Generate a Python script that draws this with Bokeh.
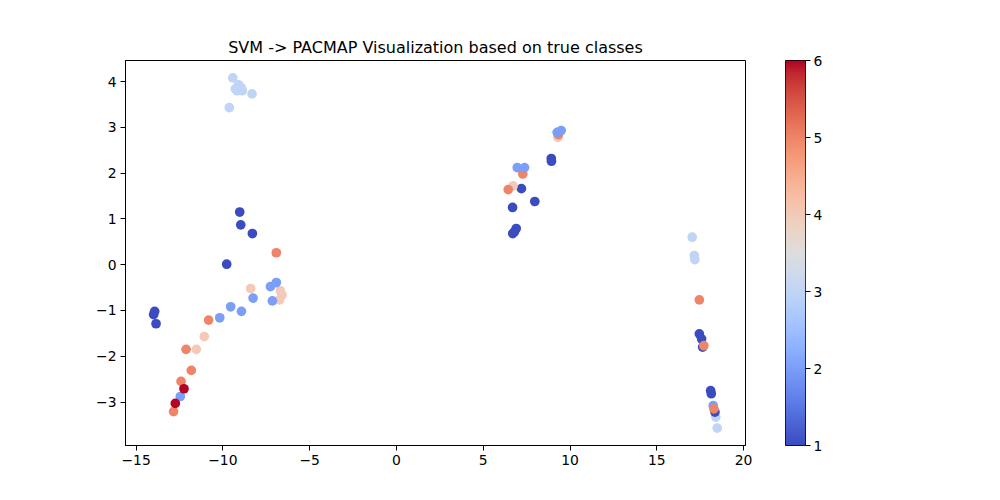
import numpy as np
from bokeh.plotting import figure
from bokeh.layouts import row
from bokeh.models import ColumnDataSource, Range1d, LinearColorMapper, FixedTicker
from bokeh.embed import file_html
from bokeh.resources import INLINE

# PACMAP coordinates and true class of each sample
xs = [-9.43, -9.28, -8.95, -9.18, -8.32, -9.63, -9.10, -8.88,
      -9.03, -8.97, -8.30, -9.78, -13.93, -13.99, -13.85,
      -8.40, -6.69, -6.59, -6.74, -11.07, -11.53,
      -7.26, -6.92, -7.15, -8.26, -9.55, -8.93, -10.18, -12.45,
      -6.92, -10.82, -12.12, -11.82, -12.41, -12.84,
      -12.24, -12.74,
      8.92, 8.93, 7.20, 7.97, 6.69, 6.90, 6.80, 6.70,
      9.30, 6.72, 9.33, 7.28, 6.44,
      9.26, 9.49, 6.96, 7.38,
      17.04, 17.16, 17.19, 18.40, 18.48,
      17.45, 17.58, 17.64, 18.10, 18.14, 18.35,
      18.25, 17.45, 17.71, 18.29]
ys = [4.08, 3.84, 3.87, 3.80, 3.73, 3.43, 3.93, 3.80,
      1.15, 0.87, 0.68, 0.01, -1.02, -1.09, -1.29,
      -0.52, -0.57, -0.66, -0.77, -1.57, -1.85,
      -0.48, -0.39, -0.79, -0.73, -0.92, -1.02, -1.16, -2.88,
      0.26, -1.21, -1.85, -2.31, -2.55, -3.21,
      -2.71, -3.03,
      2.32, 2.26, 1.66, 1.38, 1.25, 0.79, 0.72, 0.68,
      2.78, 1.72, 2.84, 1.98, 1.64,
      2.89, 2.93, 2.12, 2.12,
      0.60, 0.20, 0.11, -3.33, -3.57,
      -1.51, -1.62, -1.80, -2.75, -2.82, -3.22,
      -3.08, -0.77, -1.77, -3.15]
classes = [3, 3, 3, 3, 3, 3, 3, 3,
           1, 1, 1, 1, 1, 1, 1,
           4, 4, 4, 4, 4, 4,
           2, 2, 2, 2, 2, 2, 2, 2,
           5, 5, 5, 5, 5, 5,
           6, 6,
           1, 1, 1, 1, 1, 1, 1, 1,
           4, 4, 5, 5, 5,
           2, 2, 2, 2,
           3, 3, 3, 3, 3,
           1, 1, 1, 1, 1, 1,
           2, 5, 5, 5]

x_ticks = [-15, -10, -5, 0, 5, 10, 15, 20]
y_ticks = [-3, -2, -1, 0, 1, 2, 3, 4]
cbar_ticks = [1, 2, 3, 4, 5, 6]

# coolwarm anchors (Moreland), interpolated to 256 steps
cw = [(59, 76, 192), (68, 90, 204), (77, 104, 215), (87, 117, 225), (98, 130, 234),
      (108, 142, 241), (119, 154, 247), (130, 165, 251), (141, 176, 254), (152, 185, 255),
      (163, 194, 255), (174, 201, 253), (184, 208, 249), (194, 213, 244), (204, 217, 238),
      (213, 219, 230), (221, 221, 221), (229, 216, 209), (236, 211, 197), (241, 204, 185),
      (245, 196, 173), (247, 187, 160), (247, 177, 148), (247, 166, 135), (244, 154, 123),
      (241, 141, 111), (236, 127, 99), (229, 112, 88), (222, 96, 77), (213, 80, 66),
      (203, 62, 56), (192, 40, 47), (180, 4, 38)]
cw = np.array(cw, dtype=float)
pos = np.linspace(0, 1, len(cw))
palette = []
for v in np.linspace(0, 1, 256):
    r = np.interp(v, pos, cw[:, 0])
    g = np.interp(v, pos, cw[:, 1])
    b = np.interp(v, pos, cw[:, 2])
    palette.append("#%02x%02x%02x" % (int(round(r)), int(round(g)), int(round(b))))

mapper = LinearColorMapper(palette=palette, low=1, high=6)
font = "DejaVu Sans"


def style_axis(ax, ticks):
    ax.ticker = FixedTicker(ticks=ticks)
    ax.major_label_overrides = {k: str(k).replace("-", "\u2212") for k in ticks}
    ax.minor_tick_line_color = None
    ax.major_tick_in = 0
    ax.major_tick_out = 5
    ax.major_tick_line_color = "black"
    ax.axis_line_color = "black"
    ax.major_label_text_font = font
    ax.major_label_text_font_size = "13.9px"
    ax.major_label_text_color = "black"
    ax.major_label_standoff = 4


# main scatter
p = figure(width=770, height=495, output_backend="svg", toolbar_location=None,
           x_range=Range1d(-15.61, 20.11), y_range=Range1d(-3.95, 4.46),
           title="SVM -> PACMAP Visualization based on true classes",
           min_border_left=125, min_border_right=25, min_border_top=60, min_border_bottom=50)

src = ColumnDataSource(dict(x=xs, y=ys, c=classes))
p.scatter("x", "y", source=src, size=9.7, line_color=None,
          fill_color={"field": "c", "transform": mapper})

p.title.align = "center"
p.title.text_font = font
p.title.text_font_size = "16px"
p.title.text_font_style = "normal"
p.title.text_color = "black"
p.title.standoff = 7

p.xgrid.grid_line_color = None
p.ygrid.grid_line_color = None
p.outline_line_color = "black"
p.outline_line_alpha = 1
style_axis(p.xaxis, x_ticks)
style_axis(p.yaxis, y_ticks)

# colour bar as its own narrow figure
cb = figure(width=95, height=495, output_backend="svg", toolbar_location=None,
            x_range=Range1d(0, 1), y_range=Range1d(1, 6), y_axis_location="right",
            min_border_left=15, min_border_right=60, min_border_top=60, min_border_bottom=50)
cb.image(image=[np.linspace(1, 6, 256).reshape(256, 1)], x=0, y=1, dw=1, dh=5,
         color_mapper=mapper)
cb.xaxis.visible = False
cb.xgrid.grid_line_color = None
cb.ygrid.grid_line_color = None
cb.outline_line_color = "black"
cb.outline_line_alpha = 1
style_axis(cb.yaxis, cbar_ticks)
cb.yaxis.axis_line_color = None
cb.yaxis.major_label_standoff = 3

layout = row(p, cb, spacing=0)
open("out.html", "w").write(file_html(layout, INLINE))
